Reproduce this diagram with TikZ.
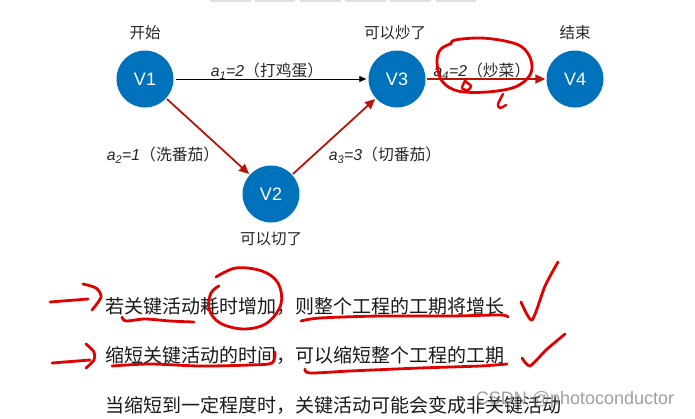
\documentclass[tikz,border=0pt]{standalone}
\usepackage{fontspec}
\setmainfont{Liberation Sans}
\newfontfamily\zh{Noto Sans CJK SC}
\usetikzlibrary{arrows.meta}
\definecolor{nodeblue}{RGB}{0,114,188}
\definecolor{arrowred}{RGB}{185,20,10}
\definecolor{inkred}{RGB}{225,0,0}
\newcommand{\elab}[3]{\textit{a\textsubscript{#1}=#2}{\zh （#3）}}
\begin{document}
\begin{tikzpicture}[x=1pt,y=-1pt,
  vertex/.style={circle,fill=nodeblue,minimum size=57pt,inner sep=0pt,text=white,font=\fontsize{18}{18}\selectfont},
  toplabel/.style={font=\zh\fontsize{15.5}{16}\selectfont,text=black!85,inner sep=0pt},
  edgelabel/.style={font=\fontsize{15.8}{16}\selectfont,text=black!85,inner sep=0pt},
  critical/.style={draw=arrowred,line width=1.8pt,-{Triangle[length=10pt,width=9pt]},shorten >=1pt,shorten <=1pt},
  normal/.style={draw=black,line width=0.8pt,-{Triangle[length=7pt,width=6pt]},shorten >=2pt,shorten <=2pt},
  ink/.style={draw=inkred,line width=2.8pt,line cap=round,line join=round},
  bodytext/.style={font=\zh\fontsize{19}{19}\selectfont,anchor=west,inner sep=0pt,text=black!90},
  tab/.style={fill=black!13,draw=none}]
\useasboundingbox (0,0) rectangle (695,418);
\fill[white] (0,0) rectangle (695,418);
% top tabs
\foreach \a/\b in {210/251,255/295,300/341,345/386,390/431,436/476}
  \fill[tab] (\a,0) rectangle (\b,2);
% vertices
\node[vertex] (v1) at (145,79) {V1};
\node[vertex] (v2) at (271,194) {V2};
\node[vertex] (v3) at (397,79) {V3};
\node[vertex] (v4) at (575,79) {V4};
% labels
\node[toplabel] (l1) at (145,33) {开始};
\node[toplabel] (l3) at (395,33) {可以炒了};
\node[toplabel] (l4) at (575,33) {结束};
\node[toplabel] (l2) at (271,239) {可以切了};
% edges
\draw[normal] (v1) -- (v3);
\draw[critical] (v1) -- (v2);
\draw[critical] (v2) -- (v3);
\draw[critical] (v3) -- (v4);
% edge labels
\node[edgelabel] (e1) at (267,71) {\elab{1}{2}{打鸡蛋}};
\node[edgelabel] (e2) at (163,155) {\elab{2}{1}{洗番茄}};
\node[edgelabel] (e3) at (385,155) {\elab{3}{3}{切番茄}};
\node[edgelabel] (e4) at (482,71) {\elab{4}{2}{炒菜}};
% body text
\node[bodytext] (t1) at (105,306) {若关键活动耗时增加，则整个工程的工期将增长};
\node[bodytext] (t2) at (105,355) {缩短关键活动的时间，可以缩短整个工程的工期};
\node[bodytext] (t3) at (105,405) {当缩短到一定程度时，关键活动可能会变成非关键活动};
% watermark
\node[font=\fontsize{18}{18}\selectfont,text=black!50,opacity=0.75,inner sep=0pt] (wm) at (575,400) {CSDN @photoconductor};
% red handwriting
\draw[ink] plot[smooth,tension=0.6] coordinates {(451,44) (455,40) (480,38) (505,41) (522,47) (531,60) (530,75) (515,87) (487,92) (458,91) (442,81) (437,63) (440,50) (450,44)};
\draw[ink,line width=2.4pt] plot[smooth] coordinates {(466,79) (462,88) (468,90) (471,86) (466,82)};
\draw[ink,line width=2.4pt] plot[smooth] coordinates {(503,94) (498,104) (500,108) (506,105)};
% arrows at left
\draw[ink] (50,302) -- (88,299);
\draw[ink] plot[smooth] coordinates {(83,284) (96,288) (101,297) (92,310)};
\draw[ink] (52,363) -- (90,360);
\draw[ink] plot[smooth] coordinates {(86,344) (94,352) (94,360) (86,368)};
% line 1 marks
\draw[ink] plot[smooth] coordinates {(122,317) (126,321) (145,319) (170,321) (194,322)};
\draw[ink] plot[smooth,tension=0.6] coordinates {(219,286) (211,293) (209,309) (220,323) (244,329) (267,323) (281,304) (278,283) (262,271) (236,268) (216,277)};
\draw[ink] plot[smooth] coordinates {(301,321) (320,318) (380,316) (450,316) (500,315) (508,317)};
\draw[ink] plot[smooth,tension=0.4] coordinates {(521,302) (532,320) (545,286) (558,262)};
% line 2 marks
\draw[ink] plot[smooth] coordinates {(112,366) (150,364) (200,366) (250,365) (272,363) (275,352)};
\draw[ink] plot[smooth] coordinates {(305,369) (310,373) (350,371) (420,368) (480,366) (507,364)};
\draw[ink] plot[smooth,tension=0.4] coordinates {(522,358) (530,366) (546,350) (565,334)};
\end{tikzpicture}
\end{document}
